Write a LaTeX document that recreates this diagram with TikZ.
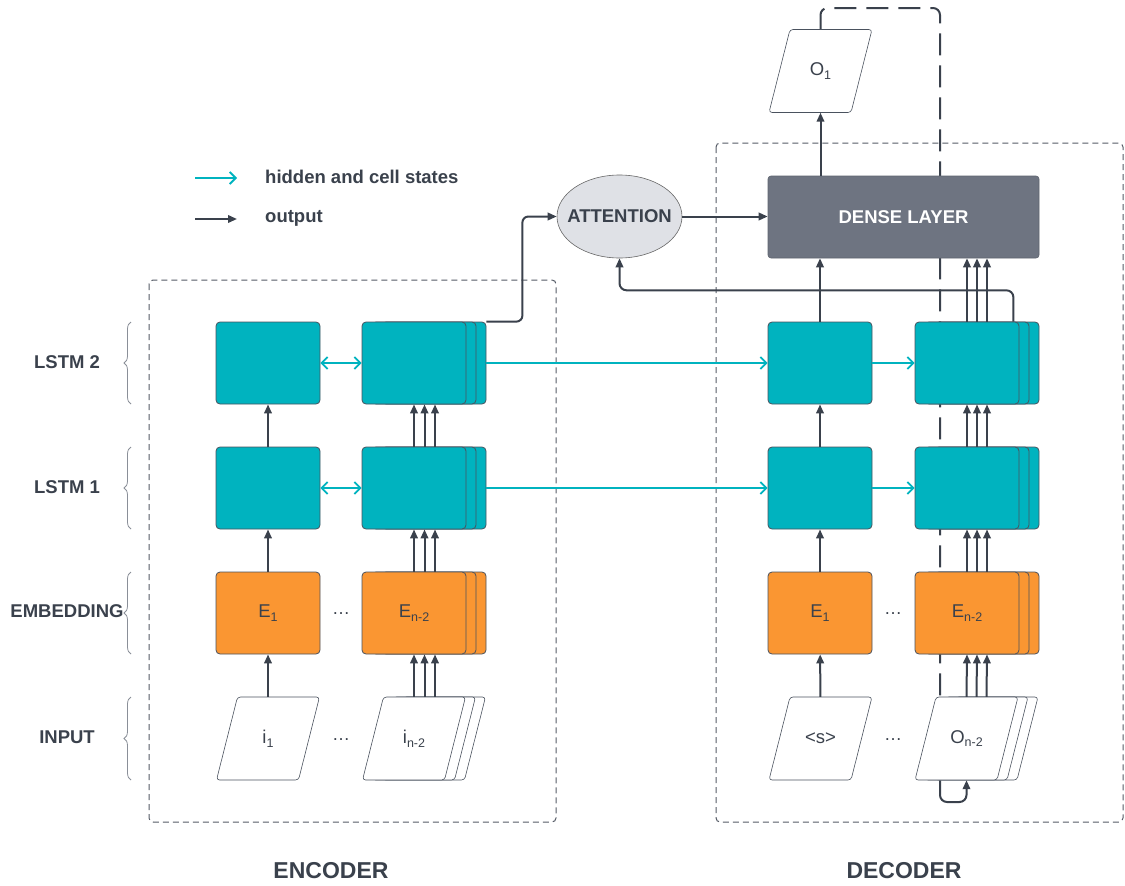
\documentclass[tikz,border=0pt]{standalone}
\usepackage{fontspec}
\setmainfont{Liberation Sans}
\usetikzlibrary{arrows.meta,shapes.geometric,shadows,decorations.pathreplacing,calc}
\pgfdeclarelayer{bg}
\pgfsetlayers{bg,main}

\definecolor{tealc}{HTML}{00B3BF}
\definecolor{orng}{HTML}{FA9632}
\definecolor{ink}{HTML}{3A414C}
\definecolor{densec}{HTML}{6E7481}
\definecolor{attf}{HTML}{DFE1E6}
\definecolor{bord}{HTML}{4A525E}
\definecolor{boxd}{HTML}{555B66}
\definecolor{bracec}{HTML}{8A8F98}

\newcommand\sbs[1]{\raisebox{-0.4ex}{\fontsize{12.5}{12}\selectfont #1}}
% parallelogram drawn around a centre point (x,y)
\newcommand\paral[2]{\filldraw[pshape, shift={(#1,#2)}] (-30.5,-41.5) -- (51.5,-41.5) -- (30.5,41.5) -- (-51.5,41.5) -- cycle;}

\tikzset{
  base/.style={font=\fontsize{18.5}{22}\selectfont, text=ink},
  lbl/.style={font=\fontsize{18.5}{22}\selectfont\bfseries, text=ink, inner sep=0},
  foot/.style={font=\fontsize{23}{26}\selectfont\bfseries, text=ink, inner sep=0},
  lstm/.style={base, rectangle, rounded corners=4, draw=bord, line width=0.8pt, fill=tealc, minimum width=104, minimum height=82, inner sep=0},
  emb/.style={lstm, fill=orng},
  pshape/.style={draw=bord, line width=0.6pt, fill=white, rounded corners=3},
  ptext/.style={base, rectangle, minimum width=104, minimum height=83, inner sep=0},
  stack/.style={copy shadow={shadow xshift=20pt, shadow yshift=0pt, draw=bord, fill=#1},
                copy shadow={shadow xshift=10pt, shadow yshift=0pt, draw=bord, fill=#1}},
  dense/.style={rectangle, rounded corners=3, fill=densec, draw=densec!85!black, line width=0.6pt, minimum width=271, minimum height=82, font=\fontsize{18.5}{22}\selectfont\bfseries, text=white},
  att/.style={ellipse, fill=attf, draw=gray!80!black, line width=0.6pt, minimum width=125, minimum height=83, inner sep=0, font=\fontsize{18.5}{22}\selectfont\bfseries, text=ink},
  outarr/.style={draw=ink, line width=2pt, -{Triangle[length=9pt,width=7.5pt]}},
  hid/.style={draw=tealc, line width=1.8pt, -{Straight Barb[length=6pt,width=12pt]}},
  hidd/.style={draw=tealc, line width=1.8pt, {Straight Barb[length=6pt,width=12pt]}-{Straight Barb[length=6pt,width=12pt]}},
  dbox/.style={draw=boxd, line width=1pt, dash pattern=on 6pt off 4pt, rounded corners=4},
  fb/.style={draw=ink, line width=2pt, dash pattern=on 22pt off 10pt, rounded corners=7},
  fbend/.style={draw=ink, line width=2pt, rounded corners=7, -{Triangle[length=9pt,width=7.5pt]}},
  brc/.style={draw=bracec, line width=0.8pt, decorate, decoration={brace, amplitude=7pt}},
  dots/.style={font=\fontsize{18}{20}\selectfont, text=ink, inner sep=0},
}

\begin{document}
\begin{tikzpicture}[x=1pt, y=-1pt]
\useasboundingbox (0,0) rectangle (1125,886);

% ---------- legend ----------
\coordinate (lgha) at (195,178);
\coordinate (lghb) at (237,178);
\coordinate (lgoa) at (195,219);
\coordinate (lgob) at (237,219);
\draw[hid] (lgha) -- (lghb);
\draw[outarr] (lgoa) -- (lgob);
\node[lbl, anchor=west] (lgh) at (265,177) {hidden and cell states};
\node[lbl, anchor=west] (lgo) at (265,218) {output};

% ---------- row labels ----------
\node[lbl] (rl2) at (67,362) {LSTM 2};
\node[lbl] (rl1) at (67,487) {LSTM 1};
\node[lbl] (rle) at (67,611) {EMBEDDING};
\node[lbl] (rli) at (67,737) {INPUT};
\draw[brc] (131,404) -- (131,322);
\draw[brc] (131,529) -- (131,447);
\draw[brc] (131,654) -- (131,572);
\draw[brc] (131,780) -- (131,697);

% ---------- dashed group boxes and feedback loop (behind) ----------
\coordinate (fbtop) at (940,8);
\coordinate (fbmid) at (940,775);
\coordinate (fbbot) at (940,802);
\draw[dbox] (149,280) rectangle (556,822);
\draw[dbox] (716,143) rectangle (1123,822);

% ---------- encoder ----------
\node[lstm] (el2a) at (268,363) {};
\node[lstm, stack=tealc] (el2b) at (414,363) {};
\node[lstm] (el1a) at (268,488) {};
\node[lstm, stack=tealc] (el1b) at (414,488) {};
\node[emb] (eea) at (268,613) {E\sbs{1}};
\node[emb, stack=orng] (eeb) at (414,613) {E\sbs{n-2}};
\paral{268}{738.5}
\paral{434}{738.5}
\paral{424}{738.5}
\paral{414}{738.5}
\node[ptext] (eia) at (268,738.5) {i\sbs{1}};
\node[ptext] (eib) at (414,738.5) {i\sbs{n-2}};
\node[dots] (edots1) at (341,614) {\textellipsis};
\node[dots] (edots2) at (341,740) {\textellipsis};

% ---------- decoder ----------
\node[lstm] (dl2a) at (820,363) {};
\node[lstm, stack=tealc] (dl2b) at (967,363) {};
\node[lstm] (dl1a) at (820,488) {};
\node[lstm, stack=tealc] (dl1b) at (967,488) {};
\node[emb] (dea) at (820,613) {E\sbs{1}};
\node[emb, stack=orng] (deb) at (967,613) {E\sbs{n-2}};
\paral{820.5}{738.5}
\paral{986.5}{738.5}
\paral{976.5}{738.5}
\paral{966.5}{738.5}
\node[ptext] (dia) at (820.5,738.5) {<s>};
\node[ptext] (dib) at (966.5,738.5) {O\sbs{n-2}};
\node[dots] (ddots1) at (893,614) {\textellipsis};
\node[dots] (ddots2) at (893,740) {\textellipsis};

\node[dense] (dense) at (903.5,217) {DENSE LAYER};
\node[att] (att) at (619.5,216.5) {\makebox[0pt]{ATTENTION}};
\paral{820.5}{71}
\node[ptext] (o1) at (820.5,71) {O\sbs{1}};

\begin{pgfonlayer}{bg}
\draw[fb] (o1.north) |- (fbtop) -- (fbmid);
\draw[fbend] (fbmid) -- (fbbot) -| (dib.south);
\end{pgfonlayer}

% ---------- encoder vertical arrows ----------
\draw[outarr] (eia) -- (eea);
\draw[outarr] (eea) -- (el1a);
\draw[outarr] (el1a) -- (el2a);
\foreach \dx in {0,10.5,21}{
  \draw[outarr] ([xshift=\dx pt]eib.north) -- ([xshift=\dx pt]eeb.south);
  \draw[outarr] ([xshift=\dx pt]eeb.north) -- ([xshift=\dx pt]el1b.south);
  \draw[outarr] ([xshift=\dx pt]el1b.north) -- ([xshift=\dx pt]el2b.south);
}

% ---------- decoder vertical arrows ----------
\draw[outarr] (dia) -- (dea);
\draw[outarr] (dea) -- (dl1a);
\draw[outarr] (dl1a) -- (dl2a);
\draw[outarr] (dl2a.north) -- (dl2a.north |- dense.south);
\draw[outarr] (dense.north -| o1.south) -- (o1.south);
\foreach \dx in {0,10,20}{
  \draw[outarr] ([xshift=\dx pt]dib.north) -- ([xshift=\dx pt]deb.south);
  \draw[outarr] ([xshift=\dx pt]deb.north) -- ([xshift=\dx pt]dl1b.south);
  \draw[outarr] ([xshift=\dx pt]dl1b.north) -- ([xshift=\dx pt]dl2b.south);
  \draw[outarr] ([xshift=\dx pt]dl2b.north) -- ([xshift=\dx pt]dl2b.north |- dense.south);
}

% ---------- attention connectors ----------
\draw[outarr, rounded corners=6] ([xshift=20pt]el2b.north east) -- ++(36,0) |- (att.west);
\draw[outarr, rounded corners=7] ([xshift=-6pt]dl2b.north east) |- ($(att.south)+(0,32)$) -- (att.south);
\draw[outarr] (att.east) -- (att.east -| dense.west);

% ---------- hidden / cell states ----------
\draw[hidd] (el2a.east) -- (el2b.west);
\draw[hidd] (el1a.east) -- (el1b.west);
\draw[hid] ([xshift=20pt]el2b.east) -- (dl2a.west);
\draw[hid] ([xshift=20pt]el1b.east) -- (dl1a.west);
\draw[hid] (dl2a.east) -- (dl2b.west);
\draw[hid] (dl1a.east) -- (dl1b.west);

% ---------- footer ----------
\node[foot] (enc) at (331,871) {ENCODER};
\node[foot] (dec) at (904,871) {DECODER};
\end{tikzpicture}
\end{document}
